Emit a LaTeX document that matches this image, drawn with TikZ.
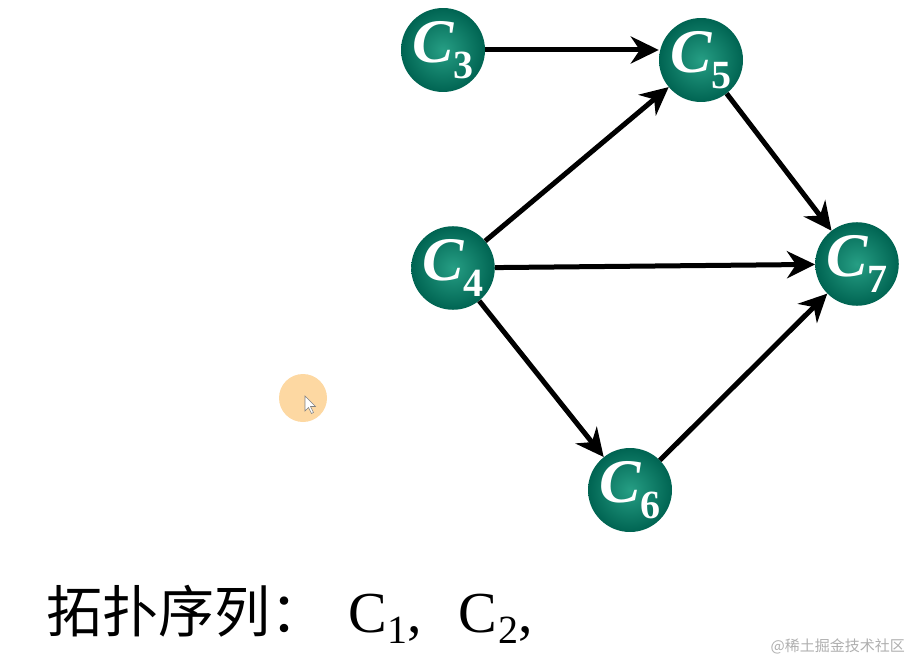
\documentclass[tikz,border=0pt]{standalone}
\usepackage{fontspec}
\setmainfont{Liberation Serif}
\newfontfamily\cjk{Noto Sans CJK SC}
\usepackage{xcolor}
\usetikzlibrary{arrows.meta,shadings}

\definecolor{ballin}{RGB}{38,158,132}
\definecolor{ballout}{RGB}{0,100,82}
\definecolor{cursorfill}{RGB}{253,216,162}
\definecolor{markgray}{RGB}{175,175,175}

\newcommand{\cname}[1]{{\fontsize{62}{62}\selectfont\bfseries\itshape C}\kern0pt\raisebox{-16pt}{\fontsize{40}{40}\selectfont\bfseries #1}}
\newcommand{\cseq}[1]{C\kern1pt\raisebox{-11pt}{\fontsize{40}{40}\selectfont #1}}

\begin{document}
\begin{tikzpicture}[
x=1pt,
y=-1pt,
task/.style={circle,minimum size=79pt,inner sep=0pt,shading=radial,inner color=ballin,outer color=ballout,text=white,font=\bfseries},
arr/.style={-{Stealth[length=28pt,width=27pt,inset=9pt]},line width=5pt,black}
]
\useasboundingbox (0,0) rectangle (913,666);

\node[task] (c3) at (443,50) {\cname{3}};
\node[task] (c5) at (701,60) {\cname{5}};
\node[task] (c4) at (453,268) {\cname{4}};
\node[task] (c7) at (857,264) {\cname{7}};
\node[task] (c6) at (630,490) {\cname{6}};

\draw[arr] (c3) -- (c3 -| c5.west);
\draw[arr] (c4) -- (c5);
\draw[arr] (c4) -- (c7);
\draw[arr] (c4) -- (c6);
\draw[arr] (c5) -- (c7);
\draw[arr] (c6) -- (c7);

% pointer
\node[circle,fill=cursorfill,minimum size=48pt,inner sep=0pt] (spot) at (303,398) {};
\draw[fill=white,draw=gray,line width=0.6pt] (spot.center) ++(2,-2) -- ++(0,15) -- ++(3.5,-3.5) -- ++(3,6) -- ++(2,-1) -- ++(-3,-6) -- ++(5,0) -- cycle;

\node[anchor=base west,inner sep=0pt] (seq) at (46,632)
  {{\cjk\fontsize{56}{56}\selectfont 拓扑序列：}\hspace{22pt}{\fontsize{58}{58}\selectfont\cseq{1},\hspace{36pt}\cseq{2},}};
\node[anchor=base east,inner sep=0pt,text=markgray,font=\cjk\fontsize{15}{15}\selectfont] (mark) at (905,651) {@稀土掘金技术社区};
\end{tikzpicture}
\end{document}
